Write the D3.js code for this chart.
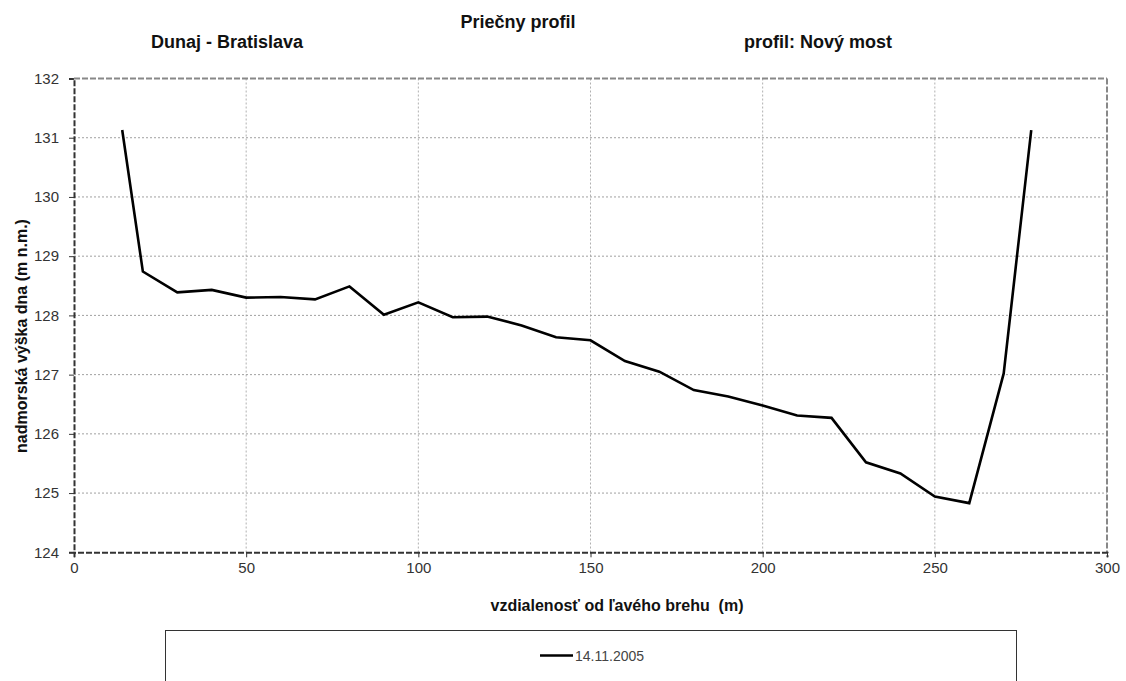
<!DOCTYPE html>
<html><head><meta charset="utf-8">
<script src="https://cdn.jsdelivr.net/npm/d3@7"></script>
<style>body{margin:0;background:#fff;} svg{display:block;font-family:"Liberation Sans",Arial,sans-serif;} text{white-space:pre;}</style>
</head><body><svg id="c" width="1126" height="681"></svg>
<script>
const distances = [14,20,30,40,50,60,70,80,90,100,110,120,130,140,150,160,170,180,190,200,210,220,230,240,250,260,270,278];
const elevations = [131.13,128.74,128.39,128.43,128.30,128.31,128.27,128.49,128.01,128.22,127.97,127.98,127.83,127.63,127.58,127.23,127.05,126.74,126.63,126.48,126.31,126.27,125.52,125.33,124.94,124.83,127.02,131.13];
const xTicks = [0,50,100,150,200,250,300];
const yTicks = [124,125,126,127,128,129,130,131,132];
const seriesName = "14.11.2005";
const title = "Priečny profil", leftSub = "Dunaj - Bratislava", rightSub = "profil: Nový most";
const xLabel = "vzdialenosť od ľavého brehu  (m)", yLabel = "nadmorská výška dna (m n.m.)";

const svg = d3.select("#c");
const L=74, R=1107, T=78.5, B=552.3;
const x = d3.scaleLinear().domain([0,300]).range([L,R]);
const y = d3.scaleLinear().domain([124,132]).range([B,T]);

const g = svg.append("g");
g.selectAll(".gx").data(xTicks.slice(1,-1)).join("line")
  .attr("x1",d=>x(d)).attr("x2",d=>x(d)).attr("y1",T).attr("y2",B)
  .attr("stroke","#b0b0b0").attr("stroke-width",1).attr("stroke-dasharray","2,2");
g.selectAll(".gy").data(yTicks.slice(1,-1)).join("line")
  .attr("x1",L).attr("x2",R).attr("y1",d=>y(d)).attr("y2",d=>y(d))
  .attr("stroke","#a0a0a0").attr("stroke-width",1).attr("stroke-dasharray","2,2");

svg.append("line").attr("x1",L).attr("x2",R).attr("y1",T).attr("y2",T)
  .attr("stroke","#888").attr("stroke-width",2).attr("stroke-dasharray","6,2");
svg.append("line").attr("x1",R).attr("x2",R).attr("y1",T).attr("y2",B)
  .attr("stroke","#888").attr("stroke-width",2).attr("stroke-dasharray","6,2");

const xAxis = d3.axisBottom(x).tickValues(xTicks).tickSize(5).tickPadding(4);
const yAxis = d3.axisLeft(y).tickValues(yTicks).tickSize(5).tickPadding(10);
const gx = svg.append("g").attr("transform",`translate(0,${B})`).call(xAxis);
const gy = svg.append("g").attr("transform",`translate(${L},0)`).call(yAxis);
[gx,gy].forEach(a=>{
  a.select(".domain").attr("stroke","#333").attr("stroke-width",2).attr("stroke-dasharray","6,2");
  a.selectAll(".tick line").attr("stroke","#333");
  a.selectAll(".tick text").attr("fill","#333").style("font-size","15px").style("font-family","Liberation Sans, Arial, sans-serif");
});
gx.selectAll(".tick text").attr("dy","0.8em");

const line = d3.line().x((d,i)=>x(distances[i])).y(d=>y(d));
svg.append("path").datum(elevations).attr("d",line)
  .attr("fill","none").attr("stroke","#000").attr("stroke-width",2.6).attr("stroke-linejoin","miter");

const bold = (t,xx,yy,size,anchor)=>svg.append("text").text(t).attr("x",xx).attr("y",yy)
  .attr("text-anchor",anchor||"middle").style("font-weight","bold").style("font-size",size+"px").attr("fill","#111");
bold(title,518,28,18);
bold(leftSub,227,48,18);
bold(rightSub,818,48,18);
bold(xLabel,617,611,16);
svg.append("text").text(yLabel).attr("transform",`translate(27,336) rotate(-90)`)
  .attr("text-anchor","middle").style("font-weight","bold").style("font-size","16px").attr("fill","#111");

svg.append("rect").attr("x",165.5).attr("y",630.5).attr("width",851).attr("height",70)
  .attr("fill","#fff").attr("stroke","#333").attr("stroke-width",1);
svg.append("line").attr("x1",540).attr("x2",573).attr("y1",655.5).attr("y2",655.5).attr("stroke","#000").attr("stroke-width",2.6);
svg.append("text").text(seriesName).attr("x",575).attr("y",661).style("font-size","14px").attr("fill","#444");
</script></body></html>
